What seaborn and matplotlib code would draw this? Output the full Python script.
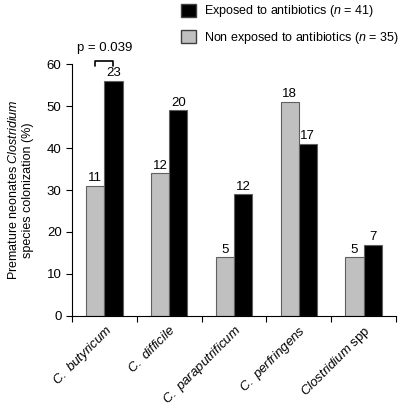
import matplotlib
matplotlib.use("Agg")
import matplotlib.pyplot as plt
import seaborn as sns
import pandas as pd
from matplotlib.patches import Patch

species = [r"$\it{C.\ butyricum}$", r"$\it{C.\ difficile}$", r"$\it{C.\ paraputrificum}$",
           r"$\it{C.\ perfringens}$", r"$\it{Clostridium}$ spp"]
groups = ["Non exposed", "Exposed"]
non_exposed_pct = [31, 34, 14, 51, 14]
exposed_pct = [56, 49, 29, 41, 17]
non_exposed_n = [11, 12, 5, 18, 5]
exposed_n = [23, 20, 12, 17, 7]

sns.set_style("white")
plt.rcParams['font.family'] = ['Liberation Sans', 'DejaVu Sans']
plt.rcParams['mathtext.fontset'] = 'custom'
plt.rcParams['mathtext.rm'] = 'Liberation Sans'
plt.rcParams['mathtext.it'] = 'Liberation Sans:italic'
for k in ['text.color', 'axes.labelcolor', 'xtick.color', 'ytick.color']:
    plt.rcParams[k] = 'black'

FS = 9

rows = []
for i, s in enumerate(species):
    rows.append({"species": s, "group": groups[0], "pct": non_exposed_pct[i], "n": non_exposed_n[i]})
    rows.append({"species": s, "group": groups[1], "pct": exposed_pct[i], "n": exposed_n[i]})
df = pd.DataFrame(rows)

fig = plt.figure(figsize=(4.0, 4.09), dpi=100)
ax = fig.add_axes([0.18, 0.2274, 0.81, 0.6161])

sns.barplot(data=df, x="species", y="pct", hue="group", hue_order=groups,
            palette={"Non exposed": "#c0c0c0", "Exposed": "#000000"},
            width=0.56, edgecolor="#606060", linewidth=0.8, ax=ax, legend=False)

for cont, labels in zip(ax.containers, [non_exposed_n, exposed_n]):
    ax.bar_label(cont, labels=[str(v) for v in labels], padding=1, fontsize=FS + 0.5, color='black')

ax.set_ylim(0, 60)
ax.set_xlim(-0.5, 4.5)
ax.set_yticks(range(0, 61, 10))
ax.tick_params(axis='y', labelsize=FS + 0.5, length=4, width=0.8, direction='out', left=True, color='black')
ax.set_xticks(range(5))
ax.set_xticklabels(species, rotation=45, ha='right', rotation_mode='anchor', fontsize=FS + 0.5)
ax.tick_params(axis='x', length=0, pad=5)
ax.set_xticks([i - 0.5 for i in range(6)], minor=True)
ax.tick_params(axis='x', which='minor', length=4, width=0.8, direction='out', bottom=True, color='black')
for sp in ["top", "right"]:
    ax.spines[sp].set_visible(False)
for sp in ["left", "bottom"]:
    ax.spines[sp].set_color("black")
    ax.spines[sp].set_linewidth(0.8)
ax.set_xlabel("")
ax.set_ylabel("Premature neonates $\\it{Clostridium}$\nspecies colonization (%)", fontsize=FS, labelpad=9)

# significance bracket
x1, x2 = -0.14, 0.14
ax.plot([x1, x1, x2, x2], [59.6, 60.6, 60.6, 59.6], color="black", lw=1.2, clip_on=False)
ax.text(0, 62.3, "p = 0.039", ha='center', va='bottom', fontsize=FS + 0.5)

handles = [Patch(facecolor="#000000", edgecolor="#404040", label="Exposed to antibiotics ($\\it{n}$ = 41)"),
           Patch(facecolor="#c0c0c0", edgecolor="#404040", label="Non exposed to antibiotics ($\\it{n}$ = 35)")]
fig.legend(handles=handles, loc='upper left', bbox_to_anchor=(0.425, 1.019), frameon=False,
           fontsize=FS, handlelength=1.2, handleheight=1.2, labelspacing=0.85, handletextpad=0.6)

fig.savefig("out.png", dpi=100)
